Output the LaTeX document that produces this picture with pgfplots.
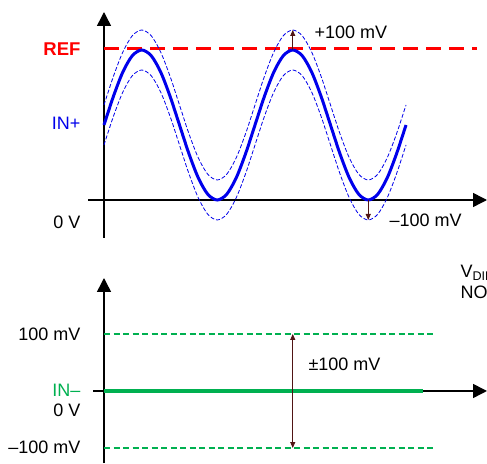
\documentclass[border=0pt]{standalone}
\usepackage{pgfplots}
\pgfplotsset{compat=1.18}
\usepackage{pgfplotstable}
\usepackage{fontspec}
\setmainfont{Liberation Sans}
\usetikzlibrary{arrows.meta}
\definecolor{inblue}{RGB}{0,0,235}
\definecolor{ingreen}{RGB}{0,176,80}
\definecolor{refred}{RGB}{255,0,0}
\definecolor{arrbrown}{RGB}{80,20,20}

\pgfplotstableread{
k y up lo
0 375 475 275
1 518.5 618.5 418.5
2 640.2 740.2 540.2
3 721.5 821.5 621.5
4 750 850 650
5 721.5 821.5 621.5
6 640.2 740.2 540.2
7 518.5 618.5 418.5
8 375 475 275
9 231.5 331.5 131.5
10 109.8 209.8 9.8
11 28.5 128.5 -71.5
12 0 100 -100
13 28.5 128.5 -71.5
14 109.8 209.8 9.8
15 231.5 331.5 131.5
16 375 475 275
17 518.5 618.5 418.5
18 640.2 740.2 540.2
19 721.5 821.5 621.5
20 750 850 650
21 721.5 821.5 621.5
22 640.2 740.2 540.2
23 518.5 618.5 418.5
24 375 475 275
25 231.5 331.5 131.5
26 109.8 209.8 9.8
27 28.5 128.5 -71.5
28 0 100 -100
29 28.5 128.5 -71.5
30 109.8 209.8 9.8
31 231.5 331.5 131.5
32 375 475 275
}\inplus

\begin{document}
\begin{tikzpicture}[x=1pt,y=1pt,font=\fontsize{18}{21}\selectfont]
\useasboundingbox (0,0) rectangle (487,463);
% ---------- top panel ----------
\begin{axis}[at={(88pt,225pt)}, anchor=south west, scale only axis,
  width=399pt, height=226pt,
  xmin=-1.6954, xmax=40.583, ymin=-190, ymax=940,
  axis lines=middle, xtick=\empty, ytick=\empty, clip=false,
  x axis line style={line width=1.5pt, -{Triangle[length=14pt,width=14pt]}},
  y axis line style={line width=1.5pt, -{Triangle[length=14pt,width=14pt]}},
  ]
\addplot[refred, line width=3pt, dash pattern=on 15pt off 8pt] coordinates {(0,755) (39.5,755)};
\addplot[inblue, line width=0.8pt, dash pattern=on 4pt off 2pt, smooth] table[x=k,y=up] {\inplus};
\addplot[inblue, line width=0.8pt, dash pattern=on 4pt off 2pt, smooth] table[x=k,y=lo] {\inplus};
\addplot[inblue, line width=3pt, smooth] table[x=k,y=y] {\inplus};
\addplot[arrbrown, line width=0.9pt, -{Triangle[length=6pt,width=5pt]}] coordinates {(20,752) (20,850)};
\addplot[arrbrown, line width=0.9pt, -{Triangle[length=6pt,width=5pt]}] coordinates {(28,-2) (28,-100)};
\end{axis}
% ---------- bottom panel ----------
\begin{axis}[at={(93pt,0pt)}, anchor=south west, scale only axis,
  width=394pt, height=185pt,
  xmin=-1.1656, xmax=40.583, ymin=-126.3, ymax=198.2,
  axis lines=middle, xtick=\empty, ytick=\empty, clip=false,
  x axis line style={line width=1.5pt, -{Triangle[length=14pt,width=14pt]}},
  y axis line style={line width=1.5pt, -{Triangle[length=14pt,width=14pt]}},
  ]
\addplot[ingreen, line width=1.5pt, dash pattern=on 6pt off 3.5pt] coordinates {(0,100) (35.07,100)};
\addplot[ingreen, line width=1.5pt, dash pattern=on 6pt off 3.5pt] coordinates {(0,-100) (35.07,-100)};
\addplot[ingreen, line width=3.5pt] coordinates {(0,0) (33.8,0)};
\addplot[arrbrown, line width=0.9pt, {Triangle[length=6pt,width=5pt]}-{Triangle[length=6pt,width=5pt]}] coordinates {(20,-100) (20,100)};
\end{axis}
% ---------- labels ----------
\node[anchor=east, text=refred, font=\fontsize{18.5}{21}\selectfont\bfseries] at (84,414) {REF};
\node[anchor=east, text=inblue] at (84,340) {IN+};
\node[anchor=east] at (84,241) {0 V};
\node[anchor=west] at (311,431) {+100 mV};
\node[anchor=west] at (386,243) {–100 mV};
\node[anchor=east] at (84,129) {100 mV};
\node[anchor=east, text=ingreen] at (84,73) {IN–};
\node[anchor=east] at (84,53) {0 V};
\node[anchor=east] at (84,16) {–100 mV};
\node[anchor=west] at (305,99) {±100 mV};
\node[anchor=west, align=left] at (457,181) {V\textsubscript{DIFF}\\NOT TO SCALE};
\end{tikzpicture}
\end{document}
